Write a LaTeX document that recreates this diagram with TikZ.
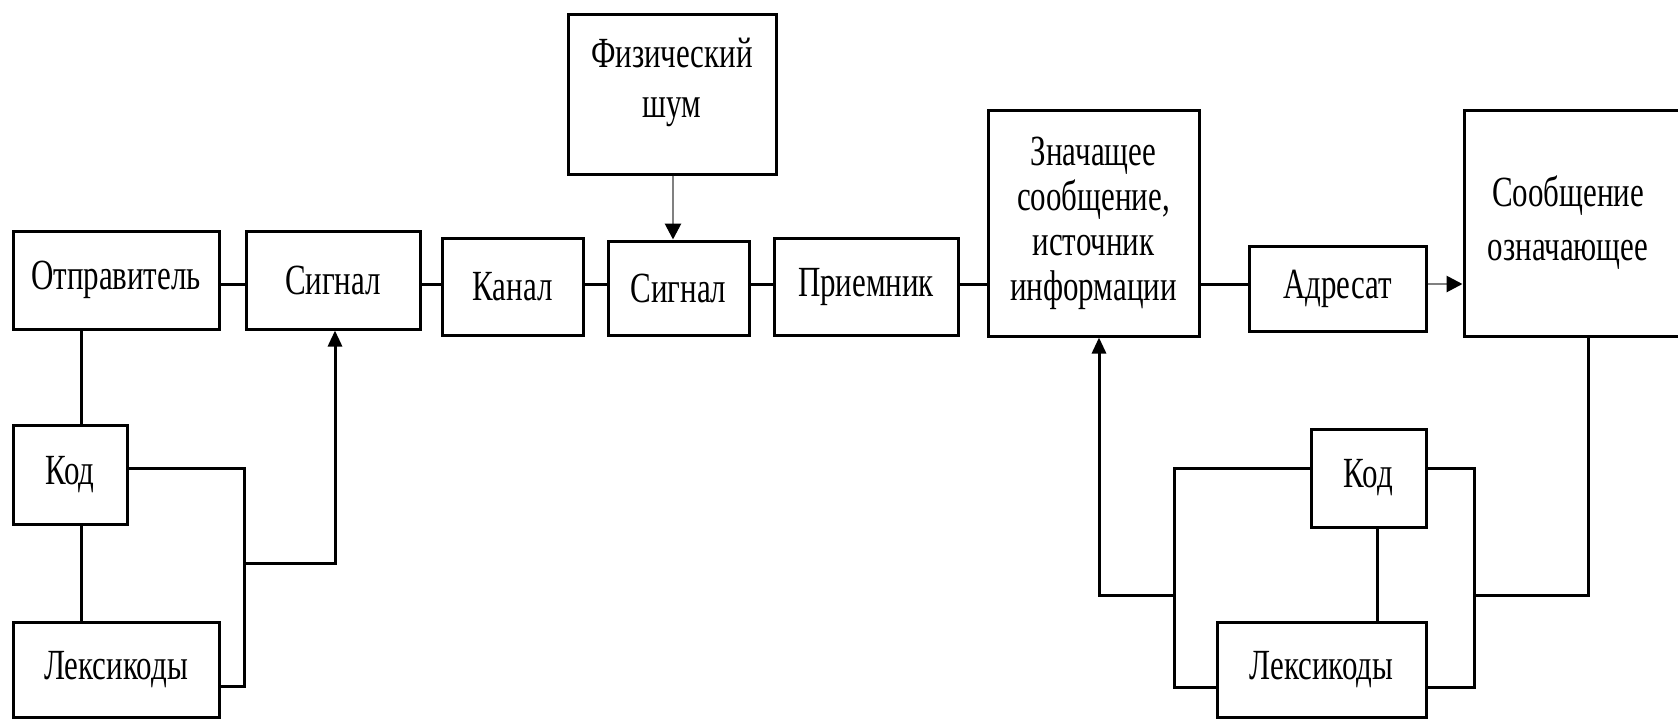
\documentclass[tikz,border=0pt]{standalone}
\usepackage{fontspec}
\setmainfont{Liberation Serif}[FakeStretch=0.72]
\usetikzlibrary{arrows.meta,calc}
\begin{document}
\begin{tikzpicture}[x=0.5pt,y=-0.5pt,
  box/.style={draw=black,line width=1.5pt,inner sep=0pt,align=center,
    font=\fontsize{21.5}{22.5}\selectfont},
  txt/.style={inner sep=0pt,align=center},
  wire/.style={draw=black,line width=1.5pt},
  arr/.style={wire,-{Triangle[length=8pt,width=7pt]}},
  garr/.style={draw=black!50,line width=1.4pt,-{Triangle[length=8pt,width=8pt,color=black]}}
]
\useasboundingbox[fill=white] (0,0) rectangle (1678,720);

% top row
\node[box,minimum width=103pt,minimum height=49pt] (otpr) at (116,280) {Отправитель};
\node[box,minimum width=87pt,minimum height=49pt] (sig1) at (333,280) {Сигнал};
\node[box,minimum width=70.5pt,minimum height=48.5pt] (kanal) at (512.5,286.5) {Канал};
\node[box,minimum width=70.5pt,minimum height=47pt] (sig2) at (678.5,288) {Сигнал};
\node[box,minimum width=92pt,minimum height=48.5pt] (prm) at (866,286.5) {Приемник};
\node[box,minimum width=105.5pt,minimum height=113pt] (znach) at (1093.5,223)
  {Значащее\\сообщение,\\источник\\информации};
\node[box,minimum width=88.5pt,minimum height=42.5pt] (adr) at (1337.5,288.5) {Адресат};
\node[box,minimum width=113pt,minimum height=113pt,
  font=\fontsize{21.5}{27}\selectfont] (soob) at (1577,223) {\hspace*{-9pt}Сообщение\\\hspace*{-9pt}означающее};
\node[box,minimum width=104pt,minimum height=80pt] (noise) at (672,94) {};
\node[txt,font=\fontsize{21.5}{25}\selectfont] (noisetxt) at (672,82) {Физический\\шум};

% left group
\node[box,minimum width=57pt,minimum height=49.5pt] (kodL) at (70,474.5) {Код};
\node[box,minimum width=103pt,minimum height=47.5pt] (leksL) at (116,669.5) {Лексикоды};

% right group
\node[box,minimum width=57.5pt,minimum height=49pt] (kodR) at (1368.5,478) {Код};
\node[box,minimum width=104.5pt,minimum height=47.5pt] (leksR) at (1321.5,669.5) {Лексикоды};

% helper coordinates
\coordinate (m) at (0,284);
\coordinate (xl) at (81,0);
\coordinate (xs) at (335,0);
\coordinate (xn) at (673,0);
\coordinate (bl1) at (244,468);
\coordinate (bl2) at (244,686);
\coordinate (bl3) at (244,563);
\coordinate (bl4) at (335,563);
\coordinate (xr) at (1377,0);
\coordinate (xz) at (1099,0);
\coordinate (xso) at (1588,0);
\coordinate (br1) at (1474,468);
\coordinate (br2) at (1474,687);
\coordinate (br3) at (1474,595);
\coordinate (bq1) at (1174,468);
\coordinate (bq2) at (1174,687);
\coordinate (bq3) at (1174,595);
\coordinate (bq4) at (1099,595);

% main chain
\draw[wire] (otpr.east |- m) -- (sig1.west |- m);
\draw[wire] (sig1.east |- m) -- (kanal.west |- m);
\draw[wire] (kanal.east |- m) -- (sig2.west |- m);
\draw[wire] (sig2.east |- m) -- (prm.west |- m);
\draw[wire] (prm.east |- m) -- (znach.west |- m);
\draw[wire] (znach.east |- m) -- (adr.west |- m);
\draw[garr] (adr.east |- m) -- (soob.west |- m);
\draw[garr] (noise.south -| xn) -- (sig2.north -| xn);

% left connectors
\draw[wire] (otpr.south -| xl) -- (kodL.north -| xl);
\draw[wire] (kodL.south -| xl) -- (leksL.north -| xl);
\draw[wire] (kodL.east |- bl1) -- (bl1) -- (bl2) -- (leksL.east |- bl2);
\draw[arr] (bl3) -- (bl4) -- (sig1.south -| xs);

% right connectors
\draw[wire] (soob.south -| xso) -- (xso |- br3) -- (br3);
\draw[wire] (kodR.east |- br1) -- (br1) -- (br2) -- (leksR.east |- br2);
\draw[wire] (kodR.west |- bq1) -- (bq1) -- (bq2) -- (leksR.west |- bq2);
\draw[arr] (bq3) -- (bq4) -- (znach.south -| xz);
\draw[wire] (kodR.south -| xr) -- (leksR.north -| xr);
\end{tikzpicture}
\end{document}
